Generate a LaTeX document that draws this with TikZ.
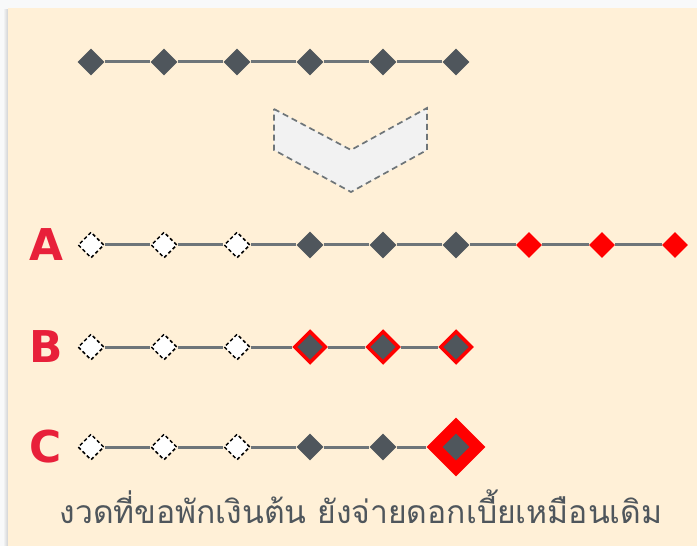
\documentclass[tikz,border=0pt]{standalone}
\usepackage{fontspec}
\setmainfont{DejaVu Sans}
\newfontfamily\thaifont[Script=Thai]{Loma}
\usetikzlibrary{shapes.geometric, backgrounds}
\definecolor{cslate}{HTML}{4F565C}
\definecolor{cline}{HTML}{6E7579}
\definecolor{cred}{HTML}{FF0000}
\definecolor{clabel}{HTML}{E8203A}
\definecolor{cpaper}{HTML}{FFF0D7}
\definecolor{couter}{HTML}{F8F9FA}
\definecolor{cchev}{HTML}{F2F2F2}
\tikzset{
  gem/.style={diamond, minimum size=27bp, inner sep=0pt, fill=cslate},
  ghost/.style={gem, minimum size=26bp, fill=white, draw=black, line width=1.5bp, dash pattern=on 3.5bp off 2.5bp},
  hot/.style={gem, minimum size=26bp, fill=cred},
  ringed/.style={gem, minimum size=32bp, draw=cred, line width=3.5bp},
  bigred/.style={gem, minimum size=59bp, fill=cred},
  link/.style={draw=cline, line width=3bp},
  rowlab/.style={text=clabel, inner sep=0pt, font=\fontsize{44}{44}\selectfont\bfseries},
  note/.style={text=cslate, inner sep=0pt, font=\fontsize{32}{32}\selectfont\thaifont},
}

\begin{document}
\begin{tikzpicture}[x=1bp, y=-1bp]
  \useasboundingbox (0,0) rectangle (697,546);
  % source row
  \foreach \i in {1,...,6} \node[gem] (t\i) at (18+73*\i, 62) {};
  % shift arrow
  \draw[cline, fill=cchev, line width=1.7bp, dash pattern=on 6bp off 4bp]
    (274,109) -- (351,150) -- (427,108) -- (427,150) -- (351,192) -- (274,150) -- cycle;
  % option A
  \node[rowlab] (la) at (46,245) {A};
  \foreach \i in {1,2,3} \node[ghost] (a\i) at (18+73*\i, 245) {};
  \foreach \i in {4,5,6} \node[gem] (a\i) at (18+73*\i, 245) {};
  \foreach \i in {7,8,9} \node[hot] (a\i) at (18+73*\i, 245) {};
  % option B
  \node[rowlab] (lb) at (46,347) {B};
  \foreach \i in {1,2,3} \node[ghost] (b\i) at (18+73*\i, 347) {};
  \foreach \i in {4,5,6} \node[ringed] (b\i) at (18+73*\i, 347) {};
  % option C
  \node[rowlab] (lc) at (46,447) {C};
  \foreach \i in {1,2,3} \node[ghost] (c\i) at (18+73*\i, 447) {};
  \foreach \i in {4,5} \node[gem] (c\i) at (18+73*\i, 447) {};
  \node[bigred] (c6) at (456,447) {};
  \node[gem] (c6in) at (c6.center) {};
  \begin{scope}[on background layer]
  \fill[couter] (0,0) rectangle (697,546);
  \foreach \k in {1,...,4} \fill[black, opacity=0.03] (8-\k,9) rectangle (8,546);
  \fill[cpaper] (8,8) rectangle (697,546);
  \foreach \i in {2,...,6} {\pgfmathtruncatemacro\p{\i-1} \draw[link] (t\p) -- (t\i);}
  \foreach \i in {2,...,9} {\pgfmathtruncatemacro\p{\i-1} \draw[link] (a\p) -- (a\i);}
  \foreach \i in {2,...,6} {\pgfmathtruncatemacro\p{\i-1} \draw[link] (b\p) -- (b\i);}
  \foreach \i in {2,...,6} {\pgfmathtruncatemacro\p{\i-1} \draw[link] (c\p) -- (c\i);}
  \end{scope}
  \node[note] (cap) at (361,507) {งวดที่ขอพักเงินต้น ยังจ่ายดอกเบี้ยเหมือนเดิม};
\end{tikzpicture}
\end{document}
